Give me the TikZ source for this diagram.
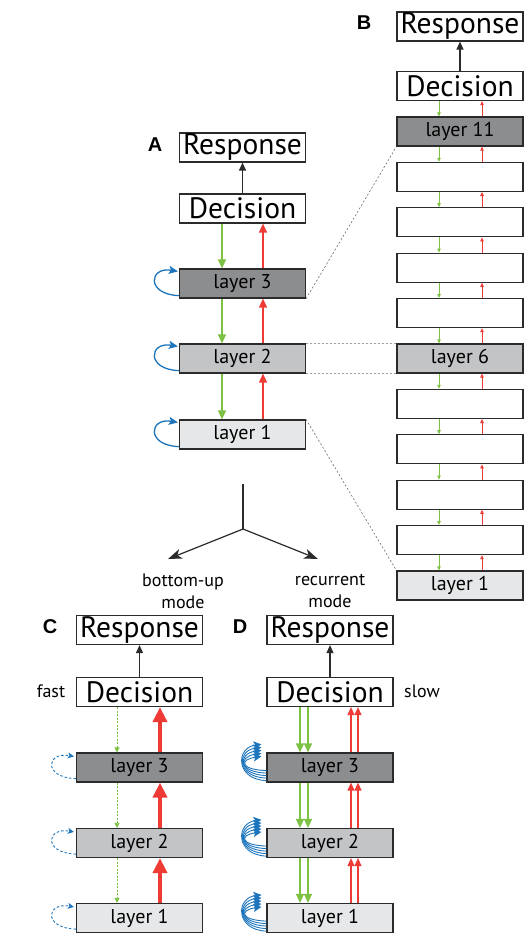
\documentclass[tikz,border=0pt]{standalone}
\usepackage{fontspec}
\setmainfont{PT Sans}
\newfontfamily\labfont{Liberation Sans}
\usetikzlibrary{calc,arrows.meta}

\definecolor{edge}{HTML}{2B2B2B}
\definecolor{fdark}{HTML}{8C8D8F}
\definecolor{fmid}{HTML}{C3C4C6}
\definecolor{flight}{HTML}{E6E7E8}
\definecolor{ffgreen}{HTML}{7DC142}
\definecolor{fbred}{HTML}{EF3B36}
\definecolor{recblue}{HTML}{1C75BC}

\tikzset{
  box/.style={draw=edge, line width=1.2pt, minimum width=126pt, minimum height=29pt, inner sep=0pt},
  topbox/.style={box, fill=white, font=\fontsize{29.5}{29.5}\selectfont},
  laybox/.style={box, font=\fontsize{20}{20}\selectfont},
  panel/.style={font=\labfont\bfseries\fontsize{20}{20}\selectfont},
  note/.style={font=\fontsize{18}{22}\selectfont, align=center},
  outarr/.style={edge, line width=1.1pt, -{Triangle[length=8pt,width=7pt]}},
  garr/.style={ffgreen, line width=1.3pt, -{Triangle[length=9pt,width=8pt]}},
  rarr/.style={fbred, line width=1.3pt, -{Triangle[length=9pt,width=8pt]}},
  gsmall/.style={ffgreen, line width=0.8pt, -{Triangle[length=4pt,width=3.5pt]}},
  rsmall/.style={fbred, line width=0.8pt, -{Triangle[length=4pt,width=3.5pt]}},
  bloop/.style={recblue, line width=1.3pt, -{Stealth[length=9pt,width=8pt,inset=2pt]}},
  link/.style={edge!70, line width=0.6pt, dash pattern=on 2pt off 2pt},
  fork/.style={edge, line width=1.2pt}
}

\begin{document}
\begin{tikzpicture}[x=1pt,y=-1pt]
  \useasboundingbox (0,0) rectangle (524,934);

  % A: drei Schichten
  \node[panel] (labA) at (155,145) {A};
  \node[topbox] (aresp) at (242.5,147.5) {Response};
  \node[topbox] (adec) at (242.5,208.5) {Decision};
  \node[laybox, fill=fdark] (al3) at (242.5,283.5) {layer 3};
  \node[laybox, fill=fmid] (al2) at (242.5,358.5) {layer 2};
  \node[laybox, fill=flight] (al1) at (242.5,434.5) {layer 1};
  \draw[outarr] (adec) -- (aresp);
  \draw[garr] ([xshift=-20.5pt]adec.south) -- ([xshift=-20.5pt]al3.north);
  \draw[garr] ([xshift=-20.5pt]al3.south) -- ([xshift=-20.5pt]al2.north);
  \draw[garr] ([xshift=-20.5pt]al2.south) -- ([xshift=-20.5pt]al1.north);
  \draw[rarr] ([xshift=20.5pt]al1.north) -- ([xshift=20.5pt]al2.south);
  \draw[rarr] ([xshift=20.5pt]al2.north) -- ([xshift=20.5pt]al3.south);
  \draw[rarr] ([xshift=20.5pt]al3.north) -- ([xshift=20.5pt]adec.south);
  \foreach \n in {al1,al2,al3}
    \draw[bloop] ([yshift=3pt]\n.south west) .. controls +(-33,-1) and +(-29,-5) .. ([xshift=-1pt,yshift=-3pt]\n.north west);

  % B: elf Schichten
  \node[panel] (labB) at (364,23) {B};
  \node[topbox] (bresp) at (460,26.5) {Response};
  \node[topbox] (bdec) at (460,86) {Decision};
  \foreach \k in {1,...,11}
    \node[laybox, fill=white] (bl\k) at (460,{585.5-45.4*(\k-1)}) {};
  \node[laybox, fill=fdark] (bl11) at (bl11) {layer 11};
  \node[laybox, fill=fmid] (bl6) at (bl6) {layer 6};
  \node[laybox, fill=flight] (bl1) at (bl1) {layer 1};
  \draw[outarr] (bdec) -- (bresp);
  \draw[gsmall] ([xshift=-21pt]bdec.south) -- ([xshift=-21pt]bl11.north);
  \draw[rsmall] ([xshift=22pt]bl11.north) -- ([xshift=22pt]bdec.south);
  \foreach \k [evaluate=\k as \j using int(\k+1)] in {1,...,10} {
    \draw[gsmall] ([xshift=-21pt]bl\j.south) -- ([xshift=-21pt]bl\k.north);
    \draw[rsmall] ([xshift=22pt]bl\k.north) -- ([xshift=22pt]bl\j.south);
  }

  % Verbindung A -- B
  \draw[link] (al3.south east) -- (bl11.south west);
  \draw[link] (al2.north east) -- (bl6.north west);
  \draw[link] (al2.south east) -- (bl6.south west);
  \draw[link] (al1.north east) -- (bl1.north west);

  % Verzweigung
  \coordinate (ftop) at (243,484);
  \coordinate (fmidpt) at (243,529);
  \coordinate (fleft) at (168,559);
  \coordinate (fright) at (318,559);
  \draw[fork] (ftop) -- (fmidpt);
  \draw[fork, -{Stealth[length=14pt,width=10pt,inset=4pt]}] (fmidpt) -- (fleft);
  \draw[fork, -{Stealth[length=14pt,width=10pt,inset=4pt]}] (fmidpt) -- (fright);
  \node[note] (mbu) at (183,591) {bottom-up\\mode};
  \node[note] (mrec) at (330,591) {recurrent\\mode};

  % C: bottom-up
  \node[panel] (labC) at (50,627) {C};
  \node[topbox] (cresp) at (139.5,630) {Response};
  \node[topbox] (cdec) at (139.5,692) {Decision};
  \node[laybox, fill=fdark] (cl3) at (139.5,767.5) {layer 3};
  \node[laybox, fill=fmid] (cl2) at (139.5,843) {layer 2};
  \node[laybox, fill=flight] (cl1) at (139.5,918) {layer 1};
  \node[note] (fast) at (51,691) {fast};
  \draw[outarr] (cdec) -- (cresp);
  \foreach \a/\b in {cdec/cl3,cl3/cl2,cl2/cl1}
    \draw[ffgreen, line width=0.8pt, dash pattern=on 2pt off 1.5pt, -{Triangle[length=5pt,width=5pt]}]
      ([xshift=-22.5pt]\a.south) -- ([xshift=-22.5pt]\b.north);
  \foreach \a/\b in {cl1/cl2,cl2/cl3,cl3/cdec}
    \draw[fbred, line width=4pt, -{Triangle[length=15pt,width=14pt]}]
      ([xshift=20.5pt]\a.north) -- ([xshift=20.5pt]\b.south);
  \foreach \n in {cl1,cl2,cl3}
    \draw[recblue, line width=0.9pt, dash pattern=on 2.5pt off 2pt, -{Stealth[length=6pt,width=6pt,inset=1.5pt]}]
      ([yshift=4pt]\n.south west) .. controls +(-33,-1) and +(-28,-5) .. ([xshift=-2pt,yshift=-4pt]\n.north west);

  % D: rekurrent
  \node[panel] (labD) at (240,627) {D};
  \node[topbox] (dresp) at (330,630) {Response};
  \node[topbox] (ddec) at (330,692) {Decision};
  \node[laybox, fill=fdark] (dl3) at (330,767.5) {layer 3};
  \node[laybox, fill=fmid] (dl2) at (330,843) {layer 2};
  \node[laybox, fill=flight] (dl1) at (330,918) {layer 1};
  \node[note] (slow) at (422,691) {slow};
  \draw[outarr] (ddec) -- (dresp);
  \foreach \a/\b in {ddec/dl3,dl3/dl2,dl2/dl1}
    \foreach \s in {-30,-22}
      \draw[garr] ([xshift=\s pt]\a.south) -- ([xshift=\s pt]\b.north);
  \foreach \a/\b in {dl1/dl2,dl2/dl3,dl3/ddec}
    \foreach \s in {21,28}
      \draw[fbred, line width=1.1pt, -{Triangle[length=8pt,width=7pt]}]
        ([xshift=\s pt]\a.north) -- ([xshift=\s pt]\b.south);
  \foreach \n in {dl1,dl2,dl3}
    \foreach \k in {0,...,4}
      \draw[recblue, line width=0.9pt, -{Stealth[length=8pt,width=8pt,inset=2pt]}]
        ([yshift={(2+2.5*\k)*1pt}]\n.south west) .. controls +(-31+\k,-1) and +(-26+\k,3) .. ([xshift=-5pt,yshift={(8-3*\k)*1pt}]\n.north west);
\end{tikzpicture}
\end{document}
